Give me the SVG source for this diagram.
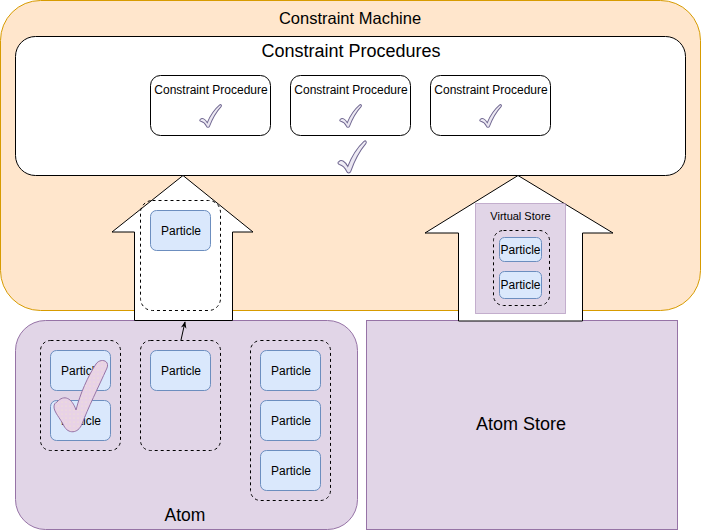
<svg xmlns="http://www.w3.org/2000/svg" width="701" height="531" viewBox="0 0 701 531">
  <style>
    text { font-family: "Liberation Sans", Arial, sans-serif; fill: #000; text-anchor: middle; dominant-baseline: central; }
    .particle { fill: #dae8fc; stroke: #6c8ebf; stroke-width: 1; }
    .group { fill: none; stroke: #000; stroke-width: 1; stroke-dasharray: 3 3; }
    .proc { fill: #fff; stroke: #000; stroke-width: 1; }
    .purple { fill: #e1d5e7; stroke: #9673a6; stroke-width: 1; }
    .bigarrow { fill: #fff; stroke: #000; stroke-width: 1; }
    .check { fill: url(#checkFill); stroke: #6f6690; }
    .conn { fill: none; stroke: #000; stroke-width: 1; }
  </style>
  <defs>
    <linearGradient id="checkFill" x1="0" y1="0" x2="1" y2="1">
      <stop offset="0" stop-color="#ffffff"/>
      <stop offset="1" stop-color="#dcd6e8"/>
    </linearGradient>
    <pattern id="dots" width="4" height="4" patternUnits="userSpaceOnUse">
      <rect width="4" height="4" fill="#e8d2e6"/>
      <circle cx="2" cy="2" r="0.6" fill="#f5e9c8"/>
    </pattern>
    <!-- tick shape in a 100x100 box -->
    <path id="tick" d="M 6 64 C 14 56, 26 62, 36 78 C 48 50, 68 22, 90 4 C 96 0, 100 6, 96 11 C 76 32, 58 62, 46 92 C 43 99, 35 99, 32 92 C 26 80, 16 74, 8 72 C 2 70, 2 66, 6 64 Z"/>
    <marker id="arrowHead" viewBox="0 0 10 10" refX="9" refY="5" markerWidth="7" markerHeight="7" orient="auto">
      <path d="M 0 1 L 10 5 L 0 9 L 3 5 Z" fill="#000"/>
    </marker>
  </defs>

  <!-- Constraint Machine -->
  <g id="constraint-machine">
    <rect x="0.5" y="0.5" width="700" height="310" rx="40" fill="#ffe6cc" stroke="#d79b00"/>
    <text x="350" y="18" font-size="16.5">Constraint Machine</text>
  </g>

  <!-- Constraint Procedures -->
  <g id="constraint-procedures">
    <rect x="15.5" y="36.5" width="670" height="139" rx="20" class="proc"/>
    <text x="351" y="51" font-size="18">Constraint Procedures</text>
    <use href="#tick" class="check" stroke-width="3.2" transform="translate(337,140) scale(0.3,0.34)"/>
  </g>

  <g id="procedure-1">
    <rect x="150.5" y="75.5" width="120" height="60" rx="10" class="proc"/>
    <text x="211" y="90" font-size="12">Constraint Procedure</text>
    <use href="#tick" class="check" stroke-width="4.2" transform="translate(199,104) scale(0.23,0.24)"/>
  </g>
  <g id="procedure-2">
    <rect x="290.5" y="75.5" width="120" height="60" rx="10" class="proc"/>
    <text x="351" y="90" font-size="12">Constraint Procedure</text>
    <use href="#tick" class="check" stroke-width="4.2" transform="translate(339,104) scale(0.23,0.24)"/>
  </g>
  <g id="procedure-3">
    <rect x="430.5" y="75.5" width="120" height="60" rx="10" class="proc"/>
    <text x="491" y="90" font-size="12">Constraint Procedure</text>
    <use href="#tick" class="check" stroke-width="4.2" transform="translate(479,104) scale(0.23,0.24)"/>
  </g>

  <!-- Atom -->
  <g id="atom">
    <rect x="15.5" y="320.5" width="342" height="209" rx="30" class="purple"/>
    <text x="185" y="515" font-size="17.5">Atom</text>
  </g>

  <!-- Atom Store -->
  <g id="atom-store">
    <rect x="366.5" y="320.5" width="311" height="209" class="purple"/>
    <text x="521" y="424" font-size="18">Atom Store</text>
  </g>

  <!-- Input arrow carrying the particle group -->
  <g id="input-arrow">
    <polygon points="183,175.5 253,232 232.5,232 232.5,320.5 134.5,320.5 134.5,232 112,232" class="bigarrow"/>
    <rect x="140.5" y="200.5" width="80" height="110" rx="12" class="group"/>
    <rect x="150.5" y="210.5" width="60" height="40" rx="6" class="particle"/>
    <text x="181" y="231" font-size="12">Particle</text>
  </g>

  <!-- Read arrow with virtual store -->
  <g id="read-arrow">
    <polygon points="518,175.5 613,233 582.5,233 582.5,321 458.5,321 458.5,233 425,233" class="bigarrow"/>
    <rect x="475.5" y="203.5" width="90" height="110" fill="#e1d5e7" stroke="#9673a6" stroke-dasharray="1 1"/>
    <text x="520.5" y="216" font-size="11">Virtual Store</text>
    <rect x="493.5" y="230.5" width="56" height="75" rx="10" class="group" stroke="#555"/>
    <rect x="499.5" y="237.5" width="42" height="24" rx="5" class="particle"/>
    <text x="520.5" y="250" font-size="12">Particle</text>
    <rect x="499.5" y="271.5" width="42" height="27" rx="5" class="particle"/>
    <text x="520.5" y="285" font-size="12">Particle</text>
  </g>

  <!-- Particle groups in the atom -->
  <g id="group-1">
    <rect x="40.5" y="340.5" width="80" height="110" rx="10" class="group"/>
    <rect x="50.5" y="350.5" width="60" height="40" rx="6" class="particle"/>
    <text x="81" y="371" font-size="12">Particle</text>
    <rect x="50.5" y="400.5" width="60" height="40" rx="6" class="particle"/>
    <text x="81" y="421" font-size="12">Particle</text>
    <path d="M 57 402 C 64 394, 72 398, 76 410 C 80 394, 88 376, 96 364 C 100 358, 110 360, 107 368 C 98 388, 88 408, 82 424 C 78 434, 68 434, 64 426 C 60 418, 54 412, 54 407 C 54 404, 55 403, 57 402 Z" fill="url(#dots)" stroke="#9673a6" stroke-width="1"/>
  </g>

  <g id="group-2">
    <rect x="140.5" y="340.5" width="80" height="110" rx="10" class="group"/>
    <rect x="150.5" y="350.5" width="60" height="40" rx="6" class="particle"/>
    <text x="181" y="371" font-size="12">Particle</text>
  </g>

  <g id="group-3">
    <rect x="250.5" y="340.5" width="80" height="160" rx="10" class="group"/>
    <rect x="260.5" y="350.5" width="60" height="40" rx="6" class="particle"/>
    <text x="291" y="371" font-size="12">Particle</text>
    <rect x="260.5" y="400.5" width="60" height="40" rx="6" class="particle"/>
    <text x="291" y="421" font-size="12">Particle</text>
    <rect x="260.5" y="450.5" width="60" height="40" rx="6" class="particle"/>
    <text x="291" y="471" font-size="12">Particle</text>
  </g>

  <!-- Connectors -->
  <g id="connectors">
    <line x1="181" y1="340" x2="185" y2="322" class="conn" marker-end="url(#arrowHead)"/>
  </g>
</svg>
